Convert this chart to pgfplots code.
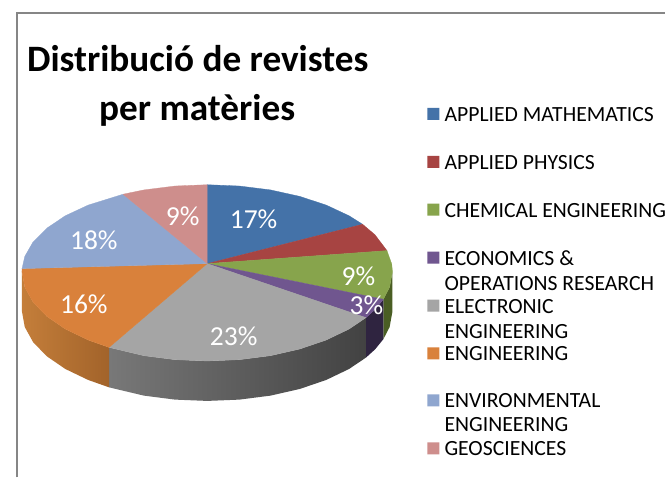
\documentclass[border=0pt]{standalone}
\usepackage{fontspec}
\setmainfont{Carlito}
\usepackage{pgfplots}
\pgfplotsset{compat=1.18}
\definecolor{cblue}{HTML}{4472A8}
\definecolor{cred}{HTML}{A74442}
\definecolor{cgreen}{HTML}{87A44C}
\definecolor{cpurple}{HTML}{70568F}
\definecolor{cgray}{HTML}{A5A5A5}
\definecolor{corange}{HTML}{D9813B}
\definecolor{clblue}{HTML}{8FA6CF}
\definecolor{cpink}{HTML}{CE8E8C}
\definecolor{bordergray}{HTML}{868686}
\newcommand{\lab}[3]{\node[white,font=\fontsize{27.5}{27.5}\selectfont,anchor=center] at (axis cs:#1,#2) {#3};}
\newcommand{\leg}[2]{\node[black,font=\fontsize{21.7}{21.7}\selectfont,anchor=base west,inner sep=0pt] at (axis cs:445,#1) {#2};}
\begin{document}
\begin{tikzpicture}
\begin{axis}[
  scale only axis, width=666pt, height=478pt,
  xmin=0, xmax=666, ymin=0, ymax=478, y dir=reverse,
  hide axis, clip=false]
% page extent
\addplot[fill=white,draw=none] coordinates {(0,0)(666,0)(666,478)(0,478)(0,0)};
% border
\addplot[draw=bordergray,line width=1.4pt] coordinates {(17,478)(17,13)(666,13)};
% sides
\addplot[draw=none,fill={rgb,255:red,74;green,94;blue,36}] coordinates {(393,272)(390.2,287.5)(383.9,299.7)(383.9,339.7)(390.2,327.5)(393,312)(393,272)};
\addplot[draw=none,fill={rgb,255:red,47;green,36;blue,64}] coordinates {(383.9,299.7)(375.6,309.9)(366.5,318.1)(366.5,358.1)(375.6,349.9)(383.9,339.7)(383.9,299.7)};
\addplot[draw=none,shade,left color={rgb,255:red,120;green,120;blue,120},middle color={rgb,255:red,74;green,74;blue,74},right color={rgb,255:red,66;green,66;blue,66}] coordinates {(366.5,318.1)(349.6,329.5)(326.7,340.5)(300.3,349.5)(270.9,356.2)(239.7,360.2)(207.5,361.5)(175.3,360.2)(144.1,356.2)(109.2,347.9)(109.2,387.9)(144.1,396.2)(175.3,400.2)(207.5,401.5)(239.7,400.2)(270.9,396.2)(300.3,389.5)(326.7,380.5)(349.6,369.5)(366.5,358.1)(366.5,318.1)};
\addplot[draw=none,shade,left color={rgb,255:red,196;green,126;blue,58},right color={rgb,255:red,162;green,99;blue,42}] coordinates {(109.2,347.9)(88.3,340.5)(65.4,329.5)(46.9,316.8)(33.2,302.7)(24.8,287.5)(22,272)(22,312)(24.8,327.5)(33.2,342.7)(46.9,356.8)(65.4,369.5)(88.3,380.5)(109.2,387.9)(109.2,347.9)};
% top faces
\addplot[fill=cblue,draw=cblue,line width=.3pt] coordinates {(207.5,264)(207.5,185)(239.7,186.3)(270.9,190.2)(300.3,196.7)(326.7,205.4)(349.6,216.1)(363.1,224.6)(207.5,264)};
\addplot[fill=cred,draw=cred,line width=.3pt] coordinates {(207.5,264)(363.1,224.6)(375.6,235.2)(387.5,251)(207.5,264)};
\addplot[fill=cgreen,draw=cgreen,line width=.3pt] coordinates {(207.5,264)(387.5,251)(392.3,264.4)(393,272)(390.2,287.5)(383.9,299.7)(207.5,264)};
\addplot[fill=cpurple,draw=cpurple,line width=.3pt] coordinates {(207.5,264)(383.9,299.7)(375.6,309.9)(366.5,318.1)(207.5,264)};
\addplot[fill=cgray,draw=cgray,line width=.3pt] coordinates {(207.5,264)(366.5,318.1)(349.6,329.5)(326.7,340.5)(300.3,349.5)(270.9,356.2)(239.7,360.2)(207.5,361.5)(175.3,360.2)(144.1,356.2)(109.2,347.9)(207.5,264)};
\addplot[fill=corange,draw=corange,line width=.3pt] coordinates {(207.5,264)(109.2,347.9)(88.3,340.5)(65.4,329.5)(46.9,316.8)(33.2,302.7)(24.8,287.5)(22,272)(22.1,269)(207.5,264)};
\addplot[fill=clblue,draw=clblue,line width=.3pt] coordinates {(207.5,264)(22.1,269)(24.8,256.9)(33.2,242.2)(46.9,228.5)(65.4,216.1)(88.3,205.4)(123.3,194.5)(207.5,264)};
\addplot[fill=cpink,draw=cpink,line width=.3pt] coordinates {(207.5,264)(123.3,194.5)(144.1,190.2)(175.3,186.3)(207.5,185)(207.5,264)};
% data labels
\lab{254}{220}{17\%}
\lab{183}{217}{9\%}
\lab{94}{241}{18\%}
\lab{84}{305}{16\%}
\lab{234}{337}{23\%}
\lab{359}{277}{9\%}
\lab{367}{306}{3\%}
% title
\node[font=\bfseries\fontsize{37.3}{37.3}\selectfont,anchor=base,inner sep=0pt] at (axis cs:198,71.5) {Distribució de revistes};
\node[font=\bfseries\fontsize{37.3}{37.3}\selectfont,anchor=base,inner sep=0pt] at (axis cs:197.5,121) {per matèries};
% legend keys
\addplot[fill=cblue,draw=none] coordinates {(428,108)(440,108)(440,120)(428,120)(428,108)};
\addplot[fill=cred,draw=none] coordinates {(428,156)(440,156)(440,168)(428,168)(428,156)};
\addplot[fill=cgreen,draw=none] coordinates {(428,204)(440,204)(440,216)(428,216)(428,204)};
\addplot[fill=cpurple,draw=none] coordinates {(428,252)(440,252)(440,264)(428,264)(428,252)};
\addplot[fill=cgray,draw=none] coordinates {(428,300)(440,300)(440,312)(428,312)(428,300)};
\addplot[fill=corange,draw=none] coordinates {(428,348)(440,348)(440,360)(428,360)(428,348)};
\addplot[fill=clblue,draw=none] coordinates {(428,395)(440,395)(440,407)(428,407)(428,395)};
\addplot[fill=cpink,draw=none] coordinates {(428,443)(440,443)(440,455)(428,455)(428,443)};
% legend text
\leg{121.5}{APPLIED MATHEMATICS}
\leg{169.5}{APPLIED PHYSICS}
\leg{217.5}{CHEMICAL ENGINEERING}
\leg{265.5}{ECONOMICS \&}
\leg{290.5}{OPERATIONS RESEARCH}
\leg{313.5}{ELECTRONIC}
\leg{338.5}{ENGINEERING}
\leg{361.5}{ENGINEERING}
\leg{408.5}{ENVIRONMENTAL}
\leg{432.5}{ENGINEERING}
\leg{456.5}{GEOSCIENCES}
\end{axis}
\end{tikzpicture}
\end{document}
